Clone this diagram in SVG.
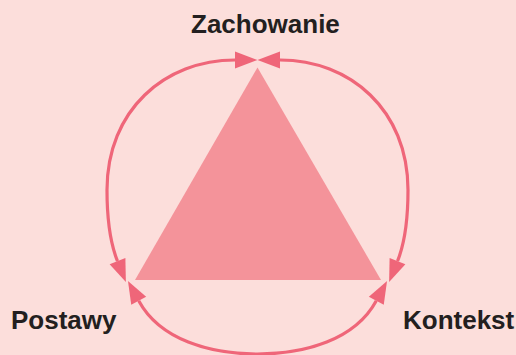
<svg xmlns="http://www.w3.org/2000/svg" width="516" height="355" viewBox="0 0 516 355">
  <defs>
    <style>
      .lbl { font-family: "Liberation Sans", Arial, sans-serif; font-weight: bold; font-size: 26px; fill: #231F20; }
      .conn { fill: none; stroke: #EF6679; stroke-width: 3.2; }
    </style>
    <marker id="ah" markerUnits="userSpaceOnUse" markerWidth="24" markerHeight="18" refX="0" refY="8.5" orient="auto-start-reverse" overflow="visible">
      <path d="M0,0 L22.5,8.5 L0,17 Z" fill="#EF6679"/>
    </marker>
  </defs>
  <rect width="516" height="355" fill="#FCDEDB"/>
  <g id="triangle">
    <polygon points="257.5,67.5 135,280 381,280" fill="#F4939A"/>
  </g>
  <g id="connectors">
    <path class="conn" marker-start="url(#ah)" marker-end="url(#ah)" d="M117.5,261.2 C111,245 107,225 107,190 C107,110 165,60 235,60"/>
    <path class="conn" marker-start="url(#ah)" marker-end="url(#ah)" d="M397.5,261.2 C404,245 408,225 408,190 C408,110 350,60 280,60"/>
    <path class="conn" marker-start="url(#ah)" marker-end="url(#ah)" d="M138.7,300.8 C160,340 210,354 257.5,354 C305,354 355,340 376.3,300.8"/>
  </g>
  <g id="zachowanie">
    <text class="lbl" x="191" y="33">Zachowanie</text>
  </g>
  <g id="postawy">
    <text class="lbl" x="11" y="329">Postawy</text>
  </g>
  <g id="kontekst">
    <text class="lbl" x="403" y="329">Kontekst</text>
  </g>
</svg>
